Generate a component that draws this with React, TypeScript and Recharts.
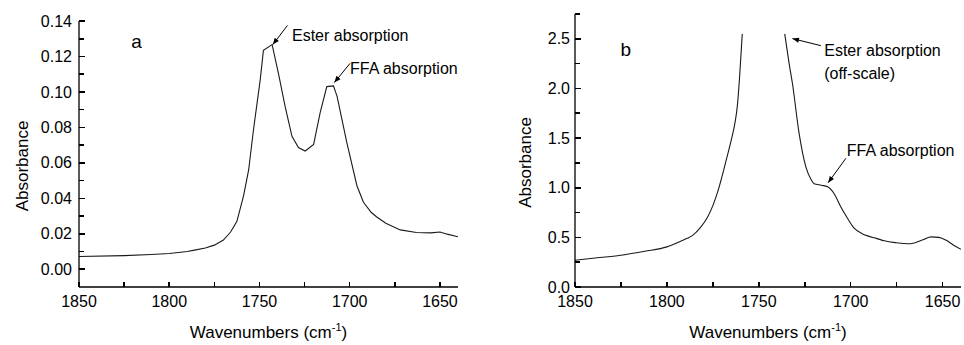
import React from 'react';
import { LineChart, Line, XAxis, YAxis, ReferenceLine, ReferenceDot } from 'recharts';

// spectrum a: low-FFA sample
const aWave = [1850, 1825, 1810, 1800, 1790, 1786, 1780, 1775, 1770, 1766, 1762.5, 1758.8, 1756, 1753.3, 1749.6, 1747.8, 1743, 1739.5, 1735.8, 1732, 1728.4, 1724.7, 1720, 1716.4, 1712.7, 1709, 1707, 1701.6, 1696, 1692.4, 1688, 1685, 1680, 1672, 1663, 1655, 1650, 1646, 1640];
const aAbs = [0.0072, 0.0077, 0.0083, 0.0089, 0.0100, 0.0108, 0.0120, 0.0136, 0.0165, 0.021, 0.027, 0.0415, 0.056, 0.0788, 0.1068, 0.1235, 0.1267, 0.1105, 0.0918, 0.075, 0.0686, 0.0667, 0.0704, 0.0882, 0.103, 0.1034, 0.0975, 0.0714, 0.0471, 0.0378, 0.032, 0.0295, 0.026, 0.0222, 0.0207, 0.0205, 0.021, 0.0198, 0.0183];

// spectrum b: ester band goes off-scale (null = gap)
const bWave = [1850, 1840, 1825, 1812, 1800, 1795, 1789, 1786, 1781.7, 1778, 1775, 1772, 1769.5, 1767, 1765, 1763, 1761.7, 1760.5, 1759, 1748, 1735.9, 1733.5, 1731.7, 1728.1, 1724.4, 1721.5, 1719.9, 1716, 1712.6, 1709, 1705.5, 1702, 1698, 1694, 1690.8, 1686, 1681.7, 1675, 1669, 1665.4, 1660, 1656.3, 1652, 1648, 1644, 1640];
const bAbs = [0.27, 0.29, 0.32, 0.36, 0.404, 0.44, 0.49, 0.52, 0.6, 0.7, 0.82, 0.98, 1.15, 1.33, 1.48, 1.65, 1.82, 2.1, 2.55, null, 2.55, 2.25, 2.05, 1.55, 1.21, 1.08, 1.04, 1.025, 1.01, 0.94, 0.81, 0.7, 0.59, 0.54, 0.515, 0.49, 0.465, 0.445, 0.435, 0.444, 0.48, 0.505, 0.5, 0.47, 0.42, 0.38];

const xTicks = [1850, 1825, 1800, 1775, 1750, 1725, 1700, 1675, 1650];
const aYTicks = [0, 0.01, 0.02, 0.03, 0.04, 0.05, 0.06, 0.07, 0.08, 0.09, 0.1, 0.11, 0.12, 0.13, 0.14];
const bYTicks = [0, 0.25, 0.5, 0.75, 1, 1.25, 1.5, 1.75, 2, 2.25, 2.5, 2.75];

const aNotes = [
  { x: 1821, y: 0.125, text: 'a' },
  { x: 1732, y: 0.129, text: 'Ester absorption' },
  { x: 1699.8, y: 0.110, text: 'FFA absorption' },
];
const aArrows = [
  { from: [1734.5, 0.1375], to: [1742.6, 0.1267] },
  { from: [1699.8, 0.1161], to: [1708.5, 0.1053] },
];
const bNotes = [
  { x: 1825.3, y: 2.325, text: 'b' },
  { x: 1714.4, y: 2.325, text: 'Ester absorption' },
  { x: 1714.4, y: 2.098, text: '(off-scale)' },
  { x: 1702.1, y: 1.315, text: 'FFA absorption' },
];
const bArrows = [
  { from: [1716.2, 2.431], to: [1731.7, 2.502] },
  { from: [1702.6, 1.297], to: [1712.3, 1.05] },
];

const FONT = '"Liberation Sans", Arial, sans-serif';
const TICK = 5;

const aData = aWave.map((w, i) => ({ w, y: aAbs[i] }));
const bData = bWave.map((w, i) => ({ w, y: bAbs[i] }));

// inward tick mark + label (labels only on the major ticks)
const XTick = ({ x, y, payload }: any) => {
  const major = payload.value % 50 === 0;
  return (
    <g>
      <path d={`M${x},${y}V${y - TICK}`} stroke="#000" strokeWidth={1.5} fill="none" shapeRendering="crispEdges" />
      {major && (
        <text x={x} y={y + 20} textAnchor="middle" fontSize={16} fontFamily={FONT} fill="#000">
          {payload.value}
        </text>
      )}
    </g>
  );
};

const YTick = ({ x, y, payload, step, digits, gap }: any) => {
  const major = Math.round(payload.value / step) % 2 === 0;
  return (
    <g>
      <path d={`M${x},${y}H${x + (major ? 6 : 4.5)}`} stroke="#000" strokeWidth={1.6} fill="none" shapeRendering="crispEdges" />
      {major && (
        <text x={x - gap} y={y} dy="0.35em" textAnchor="end" fontSize={16} fontFamily={FONT} fill="#000">
          {payload.value.toFixed(digits)}
        </text>
      )}
    </g>
  );
};

const XTitle = ({ viewBox }: any) => (
  <text x={viewBox.x + viewBox.width / 2} y={viewBox.y + 51} textAnchor="middle" fontSize={17} fontFamily={FONT} fill="#000">
    Wavenumbers (cm
    <tspan fontSize={11} dy={-7}>-1</tspan>
    <tspan dy={7}>)</tspan>
  </text>
);

const YTitle = ({ viewBox, cx }: any) => {
  const x = viewBox.x + cx;
  const y = viewBox.y + viewBox.height / 2 + 12;
  return (
    <text x={x} y={y} transform={`rotate(-90 ${x} ${y})`} textAnchor="middle" dy="0.35em" fontSize={17} fontFamily={FONT} fill="#000">
      Absorbance
    </text>
  );
};

const Arrow = ({ x1, y1, x2, y2 }: any) => {
  const a = Math.atan2(y2 - y1, x2 - x1);
  const len = 7;
  const wing = 0.38;
  const p1 = [x2 - len * Math.cos(a - wing), y2 - len * Math.sin(a - wing)];
  const p2 = [x2 - len * Math.cos(a + wing), y2 - len * Math.sin(a + wing)];
  return (
    <g>
      <line x1={x1} y1={y1} x2={x2} y2={y2} stroke="#000" strokeWidth={1} />
      <polygon points={`${x2},${y2} ${p1[0]},${p1[1]} ${p2[0]},${p2[1]}`} fill="#000" />
    </g>
  );
};

const noteShape = (text: string, size: number) => (p: any) => (
  <text x={p.cx} y={p.cy} fontSize={size} fontFamily={FONT} fill="#000">{text}</text>
);

const Panel = ({ data, yDomain, yTicks, step, digits, gap, notes, arrows, margin, yWidth, titleX, width, curve }: any) => (
  <LineChart width={width} height={345} data={data} margin={margin}>
    <XAxis
      dataKey="w"
      type="number"
      domain={[1640, 1850]}
      reversed
      allowDataOverflow
      ticks={xTicks}
      interval={0}
      tickSize={0}
      tickMargin={0}
      tickLine={false}
      tick={<XTick />}
      axisLine={{ stroke: '#000', strokeWidth: 1.3 }}
      height={58}
      label={(p: any) => <XTitle viewBox={p.viewBox} />}
    />
    <YAxis
      type="number"
      domain={yDomain}
      allowDataOverflow
      ticks={yTicks}
      interval={0}
      tickSize={0}
      tickMargin={0}
      tickLine={false}
      width={yWidth}
      tick={<YTick step={step} digits={digits} gap={gap} />}
      axisLine={{ stroke: '#000', strokeWidth: 1.3 }}
      label={(p: any) => <YTitle viewBox={p.viewBox} cx={titleX} />}
    />
    <Line dataKey="y" type={curve} stroke="#1a1a1a" strokeWidth={1.1} dot={false} connectNulls={false} isAnimationActive={false} />
    {arrows.map((a: any, i: number) => (
      <ReferenceLine key={'ar' + i} segment={[{ x: a.from[0], y: a.from[1] }, { x: a.to[0], y: a.to[1] }]} shape={Arrow} ifOverflow="visible" />
    ))}
    {notes.map((n: any, i: number) => (
      <ReferenceDot key={'nt' + i} x={n.x} y={n.y} r={0} ifOverflow="visible" shape={noteShape(n.text, n.text.length === 1 ? 19 : 16)} />
    ))}
  </LineChart>
);

export default function App() {
  return (
    <div style={{ position: 'absolute', left: 0, top: 0, width: 964, height: 345, background: '#fff', overflow: 'hidden' }}>
      <div style={{ position: 'absolute', left: 0, top: 0 }}>
        <Panel
          width={480}
          data={aData}
          yDomain={[-0.01, 0.14]}
          yTicks={aYTicks}
          step={0.01}
          digits={2}
          gap={7}
          notes={aNotes}
          arrows={aArrows}
          margin={{ top: 21, right: 22, left: 0, bottom: 0 }}
          yWidth={79}
          titleX={22}
          curve="linear"
        />
      </div>
      <div style={{ position: 'absolute', left: 480, top: 0 }}>
        <Panel
          width={484}
          data={bData}
          yDomain={[0, 2.75]}
          yTicks={bYTicks}
          step={0.25}
          digits={1}
          gap={5}
          notes={bNotes}
          arrows={bArrows}
          margin={{ top: 14, right: 3, left: 0, bottom: 0 }}
          yWidth={95}
          titleX={45}
          curve="monotone"
        />
      </div>
    </div>
  );
}
